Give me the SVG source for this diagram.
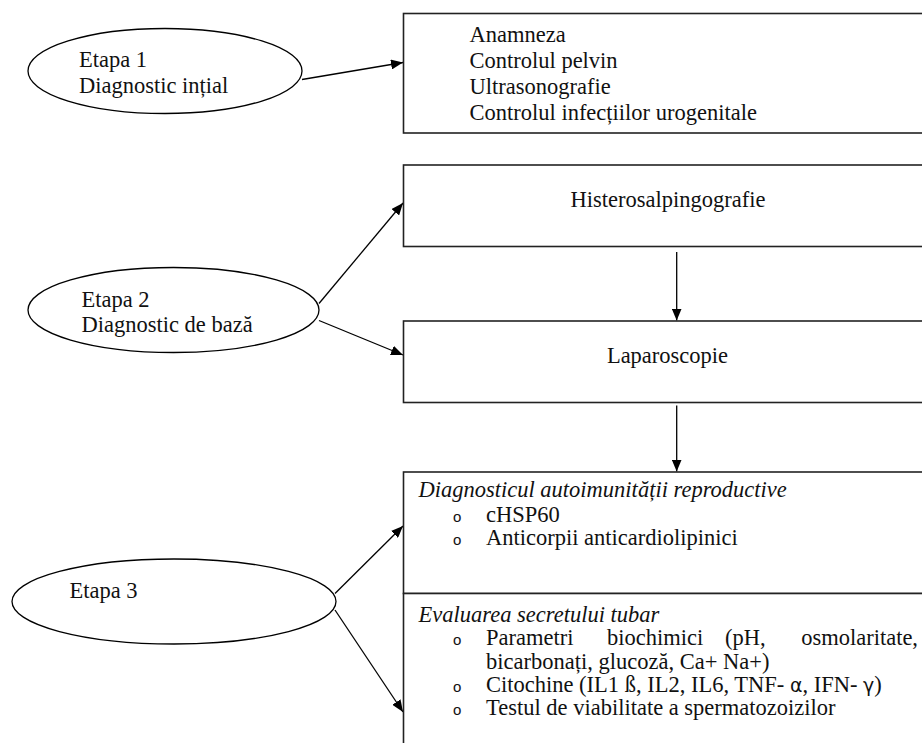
<svg xmlns="http://www.w3.org/2000/svg" width="922" height="743" viewBox="0 0 922 743">
  <defs>
    <style>
      .bg { fill: #ffffff; }
      .ell { fill: #ffffff; stroke: #000000; stroke-width: 1.3; }
      .box { fill: #ffffff; stroke: #222222; stroke-width: 1.6; }
      .edge { fill: none; stroke: #000000; stroke-width: 1.3; marker-end: url(#arrow); }
      .t { font-family: "Liberation Serif", "Times New Roman", "DejaVu Serif", serif; font-size: 22.5px; fill: #111111; }
      .it { font-style: italic; }
      .mid { text-anchor: middle; }
      .end { text-anchor: end; }
      .bul { font-family: "Liberation Sans", Arial, sans-serif; font-size: 15px; fill: #111111; }
      .gr { font-family: "DejaVu Sans", "Liberation Sans", sans-serif; font-size: 19px; }
    </style>
    <marker id="arrow" viewBox="0 0 12 10" refX="12" refY="5" markerWidth="12" markerHeight="10" markerUnits="userSpaceOnUse" orient="auto">
      <path d="M0,0 L12,5 L0,10 Z" fill="#000000"/>
    </marker>
  </defs>

  <rect class="bg" x="0" y="0" width="922" height="743"/>

  <!-- connectors -->
  <g id="connectors">
    <line class="edge" x1="302" y1="79.5" x2="403" y2="62.5"/>
    <line class="edge" x1="319" y1="303.5" x2="403" y2="203"/>
    <line class="edge" x1="319" y1="320.5" x2="403" y2="355"/>
    <line class="edge" x1="676.7" y1="252" x2="676.7" y2="320.5"/>
    <line class="edge" x1="676.7" y1="405.5" x2="676.7" y2="471.5"/>
    <line class="edge" x1="335" y1="593.5" x2="403" y2="526"/>
    <line class="edge" x1="335" y1="610" x2="403" y2="712"/>
  </g>

  <!-- stage 1 -->
  <g id="etapa1">
    <ellipse class="ell" cx="165" cy="71" rx="137" ry="42.5"/>
    <text class="t" x="79" y="67">Etapa 1</text>
    <text class="t" x="79" y="93">Diagnostic ințial</text>
  </g>

  <g id="box-initial">
    <rect class="box" x="403.5" y="13.5" width="540" height="119.5"/>
    <text class="t" x="469.5" y="41.7">Anamneza</text>
    <text class="t" x="469.5" y="68">Controlul pelvin</text>
    <text class="t" x="469.5" y="94">Ultrasonografie</text>
    <text class="t" x="469.5" y="120">Controlul infecțiilor urogenitale</text>
  </g>

  <!-- stage 2 -->
  <g id="etapa2">
    <ellipse class="ell" cx="173.5" cy="310" rx="145.5" ry="42.5"/>
    <text class="t" x="81.5" y="306.5">Etapa 2</text>
    <text class="t" x="81.5" y="331.5">Diagnostic de bază</text>
  </g>

  <g id="box-hsg">
    <rect class="box" x="403.5" y="165" width="540" height="81.5"/>
    <text class="t mid" x="668" y="207">Histerosalpingografie</text>
  </g>

  <g id="box-laparoscopie">
    <rect class="box" x="403.5" y="321" width="540" height="81.5"/>
    <text class="t mid" x="667.5" y="363">Laparoscopie</text>
  </g>

  <!-- stage 3 -->
  <g id="etapa3">
    <ellipse class="ell" cx="174" cy="601.5" rx="162" ry="42.5"/>
    <text class="t" x="69.5" y="597.5">Etapa 3</text>
  </g>

  <g id="box-autoimunitate">
    <rect class="box" x="403.5" y="472" width="540" height="121.5"/>
    <text class="t it" x="418.5" y="497">Diagnosticul autoimunității reproductive</text>
    <text class="bul" x="453" y="521.5">o</text>
    <text class="t" x="486" y="521.5">cHSP60</text>
    <text class="bul" x="453" y="545">o</text>
    <text class="t" x="486" y="545">Anticorpii anticardiolipinici</text>
  </g>

  <g id="box-secret-tubar">
    <rect class="box" x="403.5" y="593.5" width="540" height="170"/>
    <text class="t it" x="418.5" y="621.5">Evaluarea secretului tubar</text>
    <text class="bul" x="453" y="645">o</text>
    <text class="t" x="486" y="645">Parametri</text>
    <text class="t" x="607" y="645">biochimici</text>
    <text class="t" x="725" y="645">(pH,</text>
    <text class="t end" x="918" y="645">osmolaritate,</text>
    <text class="t" x="486" y="668.5">bicarbonați, glucoză, Ca+ Na+)</text>
    <text class="bul" x="453" y="692">o</text>
    <text class="t" x="486" y="692">Citochine (IL1 ß, IL2, IL6, TNF- <tspan class="gr">α</tspan>, IFN- <tspan class="gr">γ</tspan>)</text>
    <text class="bul" x="453" y="715">o</text>
    <text class="t" x="486" y="715">Testul de viabilitate a spermatozoizilor</text>
  </g>
</svg>
